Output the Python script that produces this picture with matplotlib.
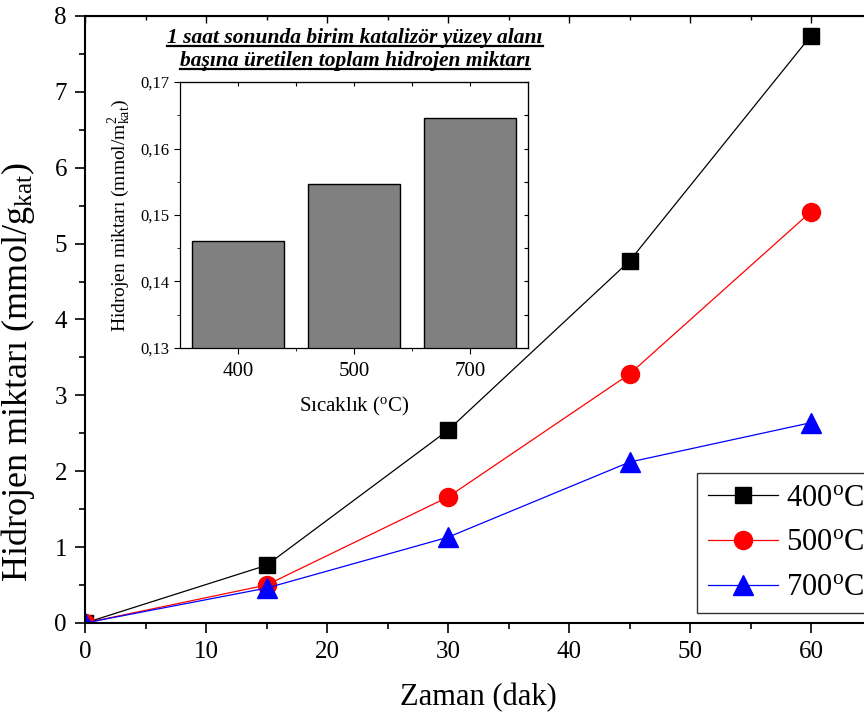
import numpy as np
import matplotlib
matplotlib.use("Agg")
import matplotlib.pyplot as plt
from matplotlib.lines import Line2D
from matplotlib.ticker import MultipleLocator, FuncFormatter, NullFormatter

plt.rcParams['font.family'] = ['Liberation Serif', 'DejaVu Serif']
plt.rcParams['mathtext.fontset'] = 'custom'
plt.rcParams['mathtext.rm'] = 'Liberation Serif'
plt.rcParams['mathtext.it'] = 'Liberation Serif:italic'

# main chart data
zaman = [0, 15, 30, 45, 60]
h2_400 = [0, 0.76, 2.54, 4.77, 7.74]
h2_500 = [0, 0.50, 1.66, 3.28, 5.42]
h2_700 = [0, 0.46, 1.13, 2.12, 2.64]

# inset data
sicaklik = ['400', '500', '700']
h2_alan = [0.1461, 0.1547, 0.1646]

fig = plt.figure(figsize=(8.64, 7.15), dpi=100)
ax = fig.add_axes([0.0984, 0.1287, 0.9103, 0.849])

ax.plot(zaman, h2_400, color='black', lw=0.9, marker='s', ms=12, label='400$^{\\rm o}$C')
ax.plot(zaman, h2_500, color='red', lw=0.9, marker='o', ms=13, label='500$^{\\rm o}$C')
ax.plot(zaman, h2_700, color='blue', lw=0.9, marker='^', ms=14, label='700$^{\\rm o}$C')

ax.set_xlim(0, 65)
ax.set_ylim(0, 8)
ax.xaxis.set_major_locator(MultipleLocator(10))
ax.xaxis.set_minor_locator(MultipleLocator(5))
ax.yaxis.set_major_locator(MultipleLocator(1))
ax.yaxis.set_minor_locator(MultipleLocator(0.5))
ax.tick_params(which='both', direction='out', labelsize=18, width=1.2)
ax.tick_params(which='major', length=7, pad=6)
ax.tick_params(which='minor', length=4)
for s in ax.spines.values():
    s.set_linewidth(1.5)

# top axis ticks pointing inward
top = ax.secondary_xaxis('top')
top.xaxis.set_major_locator(MultipleLocator(10))
top.xaxis.set_minor_locator(MultipleLocator(5))
top.xaxis.set_major_formatter(NullFormatter())
top.tick_params(which='both', direction='in', width=1.0)
top.tick_params(which='major', length=5)
top.tick_params(which='minor', length=3)

ax.set_xlabel('Zaman (dak)', fontsize=22, labelpad=14)
ax.set_ylabel('Hidrojen miktarı (mmol/g$_{\\rm kat}$)', fontsize=26)
ax.yaxis.set_label_coords(-0.061, 0.413)

leg = ax.legend(loc='lower left', bbox_to_anchor=(697 / 864, 102 / 715),
                bbox_transform=fig.transFigure, fontsize=22,
                frameon=True, fancybox=False, edgecolor='black', handlelength=2.3,
                handletextpad=0.25, borderpad=0.35, labelspacing=0.52, borderaxespad=0)
leg.get_frame().set_linewidth(1.0)

# inset bar chart
axi = fig.add_axes([0.2083, 0.5133, 0.4028, 0.372])
xpos = np.arange(len(sicaklik))
axi.bar(xpos, h2_alan, width=0.8, color='#808080', edgecolor='black', linewidth=1.0)
axi.set_xlim(-0.5, 2.5)
axi.set_ylim(0.13, 0.17)
axi.set_xticks(xpos)
axi.set_xticklabels(sicaklik)
axi.set_xticks([0.5, 1.5], minor=True)
axi.yaxis.set_major_locator(MultipleLocator(0.01))
axi.yaxis.set_minor_locator(MultipleLocator(0.005))
axi.yaxis.set_major_formatter(FuncFormatter(lambda v, p: f'{v:.2f}'.replace('.', ',')))
axi.tick_params(axis='y', which='major', labelsize=12, length=4, direction='out')
axi.tick_params(axis='x', which='major', labelsize=15, length=4, direction='out', pad=6)
axi.tick_params(which='minor', length=2, direction='out')
for s in axi.spines.values():
    s.set_linewidth(0.9)

itop = axi.secondary_xaxis('top')
itop.set_xticks(xpos)
itop.set_xticks([0.5, 1.5], minor=True)
itop.xaxis.set_major_formatter(NullFormatter())
itop.tick_params(which='both', direction='in', length=3, width=0.8)
iright = axi.secondary_yaxis('right')
iright.yaxis.set_major_locator(MultipleLocator(0.01))
iright.yaxis.set_minor_locator(MultipleLocator(0.005))
iright.yaxis.set_major_formatter(NullFormatter())
iright.tick_params(which='both', direction='in', length=3, width=0.8)

axi.set_xlabel('Sıcaklık ($^{\\rm o}$C)', fontsize=15, labelpad=10)
axi.set_ylabel('Hidrojen miktarı (mmol/m$^2_{\\rm kat}$)', fontsize=14, labelpad=6)

# inset title with underline
baslik = ['1 saat sonunda birim katalizör yüzey alanı',
          'başına üretilen toplam hidrojen miktarı']
yy = [0.947, 0.915]
texts = []
for s, y in zip(baslik, yy):
    t = fig.text(0.411, y, s, ha='center', va='center', fontsize=15.5,
                 fontweight='bold', fontstyle='italic')
    texts.append(t)

fig.canvas.draw()
r = fig.canvas.get_renderer()
for t in texts:
    bb = t.get_window_extent(r).transformed(fig.transFigure.inverted())
    yl = bb.y0 + 0.002
    fig.add_artist(Line2D([bb.x0, bb.x1], [yl, yl], color='black', lw=1.6,
                          transform=fig.transFigure))

fig.savefig('out.png', dpi=100)
